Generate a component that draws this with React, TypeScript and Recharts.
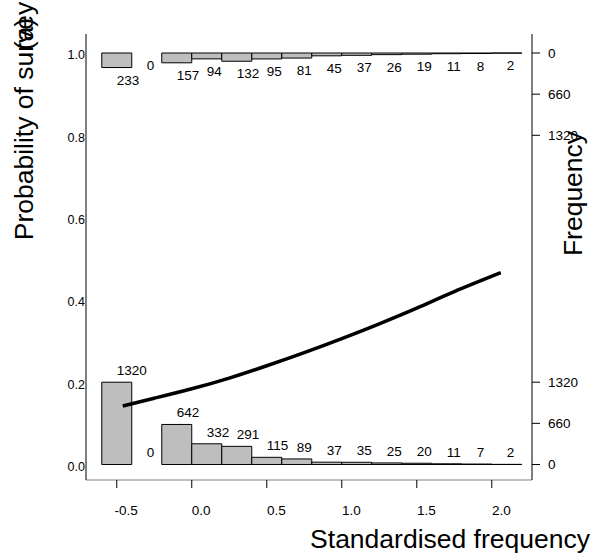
import React from 'react';
import { ComposedChart, Line, Scatter, XAxis, YAxis, ReferenceArea, Label } from 'recharts';

// histogram bins (standardised frequency), width 0.2
const binStarts = [-0.6, -0.4, -0.2, 0.0, 0.2, 0.4, 0.6, 0.8, 1.0, 1.2, 1.4, 1.6, 1.8, 2.0];
const binWidth = 0.2;
// surveyed sites (bottom histogram) and not surveyed (top, hanging from 1.0)
const bottomCounts = [1320, 0, 642, 332, 291, 115, 89, 37, 35, 25, 20, 11, 7, 2];
const topCounts = [233, 0, 157, 94, 132, 95, 81, 45, 37, 26, 19, 11, 8, 2];

// fitted probability curve
const curveX = [-0.46, -0.25, 0.0, 0.25, 0.5, 0.75, 1.0, 1.25, 1.5, 1.75, 2.06];
const curveY = [0.142, 0.161, 0.184, 0.21, 0.24, 0.272, 0.306, 0.342, 0.38, 0.42, 0.466];

const xTicks = [-0.5, 0.0, 0.5, 1.0, 1.5, 2.0];
const probTicks = [0.0, 0.2, 0.4, 0.6, 0.8, 1.0];
const freqTicks = [0, 660, 1320];

// 1320 counts take up 0.2 of the probability axis
const FREQ_MAX = 1320;
const k = 0.2 / FREQ_MAX;

const FONT = '"Liberation Sans", Arial, Helvetica, sans-serif';
const X_DOMAIN: [number, number] = [-0.705, 2.268];
const Y_DOMAIN: [number, number] = [-0.0377, 1.0462];

const curve = curveX.map((x, i) => ({ x, y: curveY[i] }));
const bottomLabels = binStarts.map((s, i) => ({ x: s + binWidth / 2, y: bottomCounts[i] * k, n: bottomCounts[i] }));
const topLabels = binStarts.map((s, i) => ({ x: s + binWidth / 2, y: 1 - topCounts[i] * k, n: topCounts[i] }));
const rightTicks = [...freqTicks.map((f) => f * k), ...freqTicks.map((f) => 1 - f * k)];

const XTick = (props: any) => {
  const { x, y, payload } = props;
  return (
    <text x={x + 9.5} y={y} dy="0.71em" textAnchor="middle" fontSize={13.5} fontFamily={FONT} fill="#000">
      {Number(payload.value).toFixed(1)}
    </text>
  );
};

const LeftTick = (props: any) => {
  const { x, y, payload } = props;
  return (
    <text x={x} y={y} dy={6.4} textAnchor="end" fontSize={12.5} fontFamily={FONT} fill="#000">
      {Number(payload.value).toFixed(1)}
    </text>
  );
};

const RightTick = (props: any) => {
  const { x, y, payload } = props;
  const v = payload.value;
  const n = Math.round((v < 0.5 ? v : 1 - v) / k);
  return (
    <text x={x} y={y} dy={4.8} textAnchor="start" fontSize={13.5} fontFamily={FONT} fill="#000">
      {n}
    </text>
  );
};

const makeCountLabel = (offset: number) => (props: any) => {
  const { cx, cy, payload } = props;
  return (
    <text x={cx} y={cy + offset} textAnchor="start" fontSize={13.5} fontFamily={FONT} fill="#000">
      {payload.n}
    </text>
  );
};

const App: React.FC = () => {
  return (
    <div style={{ position: 'absolute', left: 0, top: 0, background: '#fff' }}>
      <ComposedChart width={597} height={560} margin={{ top: 34, right: 0, bottom: 0, left: 0 }}>
        <XAxis
          dataKey="x"
          type="number"
          domain={X_DOMAIN}
          allowDataOverflow
          ticks={xTicks}
          interval={0}
          height={80}
          tick={<XTick />}
          tickSize={8}
          tickMargin={17}
          tickLine={{ stroke: '#000' }}
          axisLine={{ stroke: '#808080' }}
        >
          <Label
            content={() => (
              <text x={590} y={548} textAnchor="end" fontSize={26.5} fontFamily={FONT} fill="#000">
                Standardised frequency
              </text>
            )}
          />
        </XAxis>
        <XAxis
          xAxisId="top"
          orientation="top"
          type="number"
          domain={X_DOMAIN}
          height={0}
          tick={false}
          tickLine={false}
          axisLine={{ stroke: '#808080' }}
        />
        <YAxis
          dataKey="y"
          type="number"
          domain={Y_DOMAIN}
          allowDataOverflow
          ticks={probTicks}
          interval={0}
          width={86}
          tick={<LeftTick />}
          tickLine={false}
          tickSize={0}
          tickMargin={1}
          axisLine={{ stroke: '#000' }}
        >
          <Label
            content={() => (
              <g fontFamily={FONT} fontSize={26.5} fill="#000">
                <text x={33} y={121} textAnchor="middle" transform="rotate(-90, 33, 121)">
                  Probability of survey
                </text>
                <text x={33} y={34} textAnchor="middle" transform="rotate(-90, 33, 34)">
                  (a)
                </text>
              </g>
            )}
          />
        </YAxis>
        <YAxis
          yAxisId="right"
          orientation="right"
          type="number"
          domain={Y_DOMAIN}
          allowDataOverflow
          ticks={rightTicks}
          interval={0}
          width={65}
          tick={<RightTick />}
          tickSize={8}
          tickMargin={8}
          tickLine={{ stroke: '#000' }}
          axisLine={{ stroke: '#000' }}
        >
          <Label
            content={() => (
              <text
                x={581.5}
                y={193.5}
                textAnchor="middle"
                transform="rotate(-90, 581.5, 193.5)"
                fontSize={26.5}
                fontFamily={FONT}
                fill="#000"
              >
                Frequency
              </text>
            )}
          />
        </YAxis>

        {binStarts.map((s, i) =>
          bottomCounts[i] > 0 ? (
            <ReferenceArea
              key={'b' + i}
              x1={s}
              x2={s + binWidth}
              y1={0}
              y2={bottomCounts[i] * k}
              fill="#bebebe"
              fillOpacity={1}
              stroke="#000"
              strokeWidth={1}
            />
          ) : null
        )}
        {binStarts.map((s, i) =>
          topCounts[i] > 0 ? (
            <ReferenceArea
              key={'t' + i}
              x1={s}
              x2={s + binWidth}
              y1={1 - topCounts[i] * k}
              y2={1}
              fill="#bebebe"
              fillOpacity={1}
              stroke="#000"
              strokeWidth={1}
            />
          ) : null
        )}

        <Scatter data={bottomLabels} dataKey="y" shape={makeCountLabel(-7)} isAnimationActive={false} />
        <Scatter data={topLabels} dataKey="y" shape={makeCountLabel(17)} isAnimationActive={false} />

        <Line
          data={curve}
          dataKey="y"
          type="natural"
          stroke="#000"
          strokeWidth={3.5}
          dot={false}
          isAnimationActive={false}
        />
      </ComposedChart>
    </div>
  );
};

export default App;
